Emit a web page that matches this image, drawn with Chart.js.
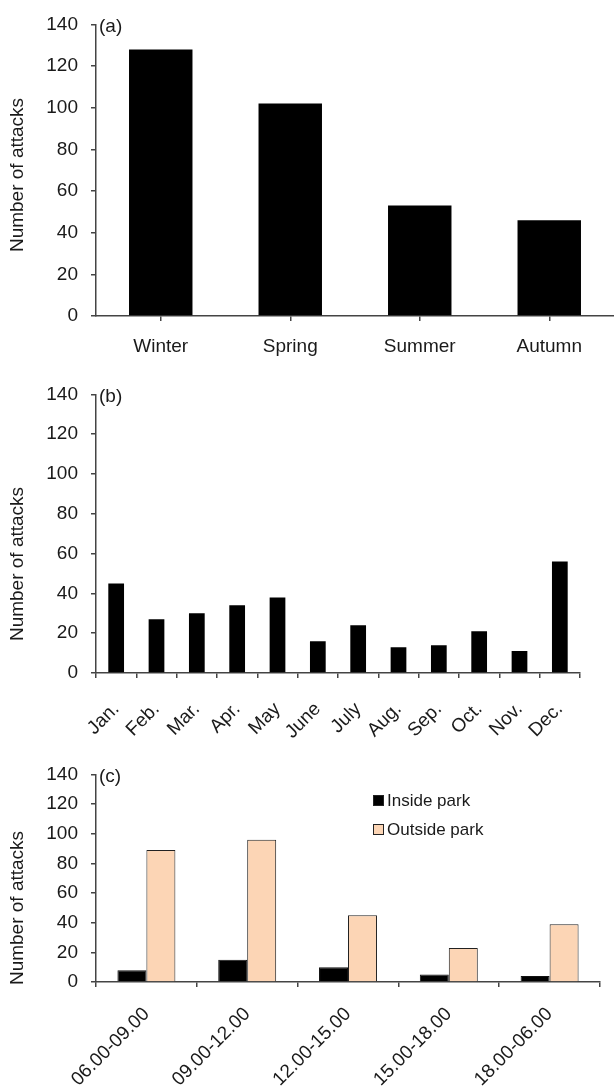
<!DOCTYPE html>
<html>
<head>
<meta charset="utf-8">
<script src="https://cdn.jsdelivr.net/npm/chart.js@4.4.0/dist/chart.umd.min.js"></script>
<style>
html, body { margin: 0; padding: 0; background: #fff; overflow: hidden; }
body { width: 614px; height: 1087px; position: relative; }
canvas { position: absolute; left: 0; }
</style>
</head>
<body>
<canvas id="chartA" width="614" height="370" style="top:0px"></canvas>
<canvas id="chartB" width="614" height="380" style="top:370px"></canvas>
<canvas id="chartC" width="614" height="337" style="top:750px"></canvas>
<script>
const seasons = ['Winter', 'Spring', 'Summer', 'Autumn'];
const seasonAttacks = [128, 102, 53, 46];

const months = ['Jan.', 'Feb.', 'Mar.', 'Apr.', 'May', 'June', 'July', 'Aug.', 'Sep.', 'Oct.', 'Nov.', 'Dec.'];
const monthAttacks = [45, 27, 30, 34, 38, 16, 24, 13, 14, 21, 11, 56];

const timeSlots = ['06.00-09.00', '09.00-12.00', '12.00-15.00', '15.00-18.00', '18.00-06.00'];
const insidePark = [8, 15, 10, 5, 4];
const outsidePark = [89, 96, 45, 23, 39];

const yMin = 0, yMax = 140, yStep = 20;

const FONT = '"Liberation Sans", Arial, sans-serif';
const AXIS = '#444';
const TEXT = '#1a1a1a';
const PEACH = '#FCD5B5';

// panel letter, rotated y title and (optionally) the legend inside the plot
const decor = {
    id: 'decor',
    afterDraw(chart, args, o) {
        const ctx = chart.ctx, area = chart.chartArea;
        ctx.save();
        ctx.fillStyle = TEXT;
        ctx.font = '19px ' + FONT;
        ctx.textBaseline = 'middle';
        ctx.textAlign = 'left';
        ctx.fillText(o.panel, area.left + 3, area.top + 2);

        if (o.legend) {
            ctx.font = '17px ' + FONT;
            chart.data.datasets.forEach((ds, i) => {
                const y = o.legend.y + i * o.legend.gap;
                ctx.fillStyle = ds.backgroundColor;
                ctx.fillRect(o.legend.x, y - 5, 11, 11);
                ctx.strokeStyle = '#222';
                ctx.lineWidth = 1;
                ctx.strokeRect(o.legend.x + 0.5, y - 4.5, 10, 10);
                ctx.fillStyle = TEXT;
                ctx.fillText(ds.label, o.legend.x + 14, y + 1);
            });
        }

        ctx.font = '19px ' + FONT;
        ctx.translate(18, o.titleY);
        ctx.rotate(-Math.PI / 2);
        ctx.textAlign = 'center';
        ctx.fillText('Number of attacks', 0, 0);
        ctx.restore();
    }
};

function makeOptions(cfg) {
    return {
        responsive: false,
        animation: false,
        layout: { padding: { top: cfg.top, right: cfg.right, left: 0, bottom: 0 } },
        plugins: {
            legend: { display: false },
            tooltip: { enabled: false },
            decor: cfg.decor
        },
        scales: {
            x: {
                grid: { offset: cfg.tickBetween, drawOnChartArea: false, drawTicks: true, tickLength: 5, color: AXIS, lineWidth: 1.5 },
                border: { color: AXIS, width: 1.5 },
                ticks: { color: TEXT, font: { family: FONT, size: 19 }, padding: cfg.xPad, minRotation: cfg.rot, maxRotation: cfg.rot, autoSkip: false },
                afterFit: s => { s.height = cfg.xHeight; }
            },
            y: {
                min: yMin, max: yMax,
                ticks: { stepSize: yStep, color: TEXT, font: { family: FONT, size: 19 }, padding: 13 },
                grid: { drawOnChartArea: false, drawTicks: true, tickLength: 5, color: AXIS, lineWidth: 1.5 },
                border: { color: AXIS, width: 1.5 },
                afterFit: s => { s.width = 96; }
            }
        }
    };
}

new Chart(document.getElementById('chartA'), {
    type: 'bar',
    data: {
        labels: seasons,
        datasets: [{ label: 'Attacks', data: seasonAttacks, backgroundColor: '#000', barPercentage: 0.49, categoryPercentage: 1 }]
    },
    options: makeOptions({ top: 20, right: 0, xHeight: 54, xPad: 14, rot: 0, tickBetween: false,
        decor: { panel: '(a)', titleY: 175 } }),
    plugins: [decor]
});

new Chart(document.getElementById('chartB'), {
    type: 'bar',
    data: {
        labels: months,
        datasets: [{ label: 'Attacks', data: monthAttacks, backgroundColor: '#000', barPercentage: 0.39, categoryPercentage: 1 }]
    },
    options: makeOptions({ top: 23, right: 34, xHeight: 77, xPad: 20, rot: 45, tickBetween: true,
        decor: { panel: '(b)', titleY: 194 } }),
    plugins: [decor]
});

new Chart(document.getElementById('chartC'), {
    type: 'bar',
    data: {
        labels: timeSlots,
        datasets: [
            { label: 'Inside park', data: insidePark, backgroundColor: '#000', borderColor: '#111', borderWidth: 1, barPercentage: 1, categoryPercentage: 0.575 },
            { label: 'Outside park', data: outsidePark, backgroundColor: PEACH, borderColor: '#222', borderWidth: 1, barPercentage: 1, categoryPercentage: 0.575 }
        ]
    },
    options: makeOptions({ top: 15, right: 14, xHeight: 105, xPad: 16, rot: 45, tickBetween: true,
        decor: { panel: '(c)', titleY: 158, legend: { x: 373, y: 50, gap: 29 } } }),
    plugins: [decor]
});
</script>
</body>
</html>
